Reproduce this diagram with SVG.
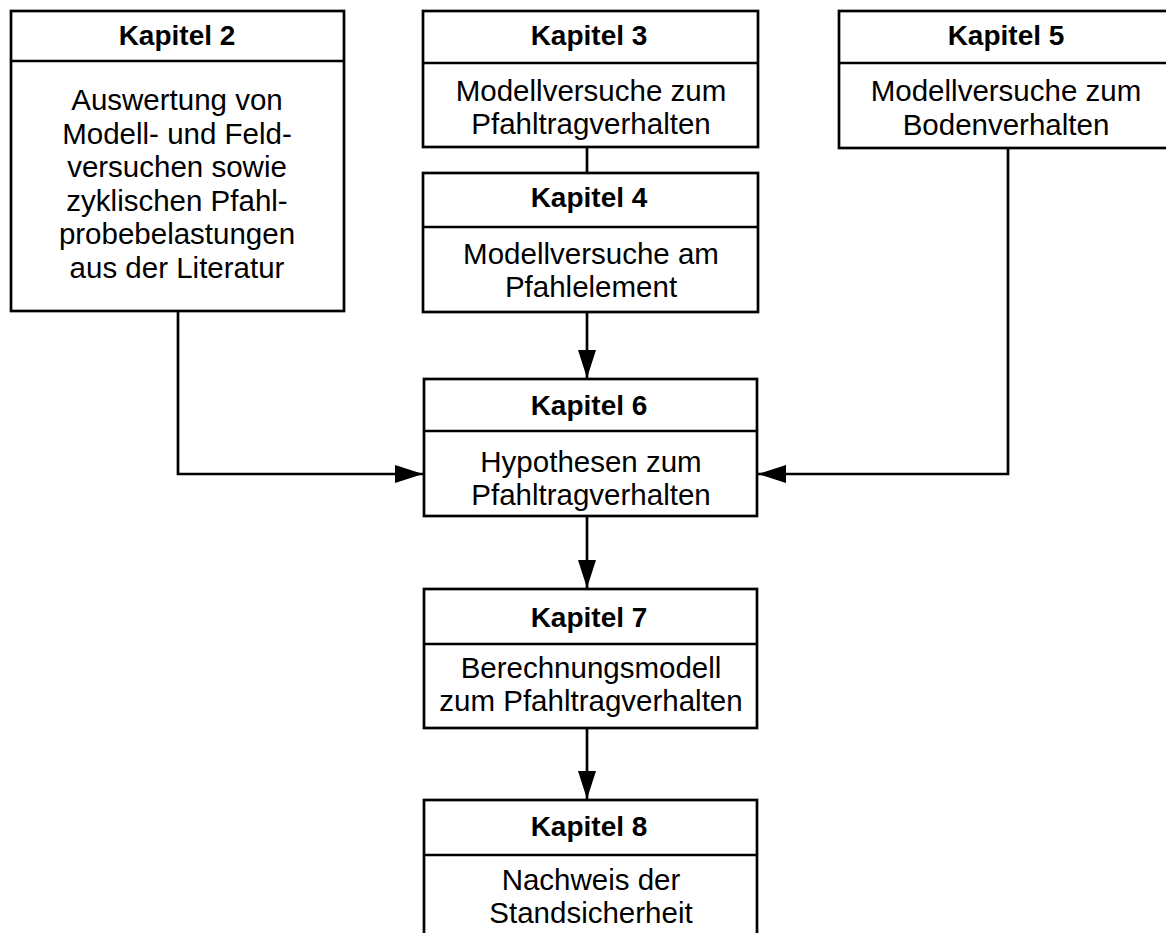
<svg xmlns="http://www.w3.org/2000/svg" width="1166" height="933" viewBox="0 0 1166 933">
<style>
.box{fill:#fff;stroke:#000;stroke-width:2.7}
.div{stroke:#000;stroke-width:2.7}
.t{font-family:"Liberation Sans",Arial,sans-serif;font-size:28px;font-weight:bold;text-anchor:middle;fill:#000}
.b{font-family:"Liberation Sans",Arial,sans-serif;font-size:29.5px;text-anchor:middle;fill:#000}
.c{fill:none;stroke:#000;stroke-width:2.7}
</style>
<defs>
<marker id="ah" markerUnits="userSpaceOnUse" markerWidth="30" markerHeight="20" refX="28" refY="9" orient="auto">
<path d="M0,0 L28,9 L0,18 Z" fill="#000"/>
</marker>
</defs>
<g id="connectors">
<line class="c" x1="587" y1="147" x2="587" y2="173"/>
<line class="c" x1="587" y1="312" x2="587" y2="378" marker-end="url(#ah)"/>
<polyline class="c" points="178,311 178,474 423,474" marker-end="url(#ah)"/>
<polyline class="c" points="1008,148 1008,474 758,474" marker-end="url(#ah)"/>
<line class="c" x1="587" y1="516" x2="587" y2="588" marker-end="url(#ah)"/>
<line class="c" x1="587" y1="728" x2="587" y2="799" marker-end="url(#ah)"/>
</g>
<g id="kapitel2">
<rect class="box" x="11" y="11" width="333" height="300"/>
<line class="div" x1="11" y1="61" x2="344" y2="61"/>
<text class="t" x="177" y="45">Kapitel 2</text>
<text class="b" x="177" y="110">Auswertung von</text>
<text class="b" x="177" y="143.5">Modell- und Feld-</text>
<text class="b" x="177" y="177">versuchen sowie</text>
<text class="b" x="177" y="210.5">zyklischen Pfahl-</text>
<text class="b" x="177" y="244">probebelastungen</text>
<text class="b" x="177" y="277.5">aus der Literatur</text>
</g>
<g id="kapitel3">
<rect class="box" x="423" y="11" width="335" height="136"/>
<line class="div" x1="423" y1="63" x2="758" y2="63"/>
<text class="t" x="589" y="45">Kapitel 3</text>
<text class="b" x="591" y="101">Modellversuche zum</text>
<text class="b" x="591" y="134">Pfahltragverhalten</text>
</g>
<g id="kapitel4">
<rect class="box" x="423" y="173" width="335" height="139"/>
<line class="div" x1="423" y1="227" x2="758" y2="227"/>
<text class="t" x="589" y="207">Kapitel 4</text>
<text class="b" x="591" y="264">Modellversuche am</text>
<text class="b" x="591" y="297">Pfahlelement</text>
</g>
<g id="kapitel5">
<rect class="box" x="839" y="11" width="334" height="137"/>
<line class="div" x1="839" y1="63" x2="1173" y2="63"/>
<text class="t" x="1006" y="45">Kapitel 5</text>
<text class="b" x="1006" y="101">Modellversuche zum</text>
<text class="b" x="1006" y="135">Bodenverhalten</text>
</g>
<g id="kapitel6">
<rect class="box" x="424" y="379" width="333" height="137"/>
<line class="div" x1="424" y1="431" x2="757" y2="431"/>
<text class="t" x="589" y="415">Kapitel 6</text>
<text class="b" x="591" y="472">Hypothesen zum</text>
<text class="b" x="591" y="505">Pfahltragverhalten</text>
</g>
<g id="kapitel7">
<rect class="box" x="424" y="589" width="333" height="139"/>
<line class="div" x1="424" y1="644" x2="757" y2="644"/>
<text class="t" x="589" y="627">Kapitel 7</text>
<text class="b" x="591" y="678">Berechnungsmodell</text>
<text class="b" x="591" y="711">zum Pfahltragverhalten</text>
</g>
<g id="kapitel8">
<rect class="box" x="424" y="800" width="333" height="150"/>
<line class="div" x1="424" y1="855" x2="757" y2="855"/>
<text class="t" x="589" y="836">Kapitel 8</text>
<text class="b" x="591" y="890">Nachweis der</text>
<text class="b" x="591" y="923">Standsicherheit</text>
</g>
</svg>
